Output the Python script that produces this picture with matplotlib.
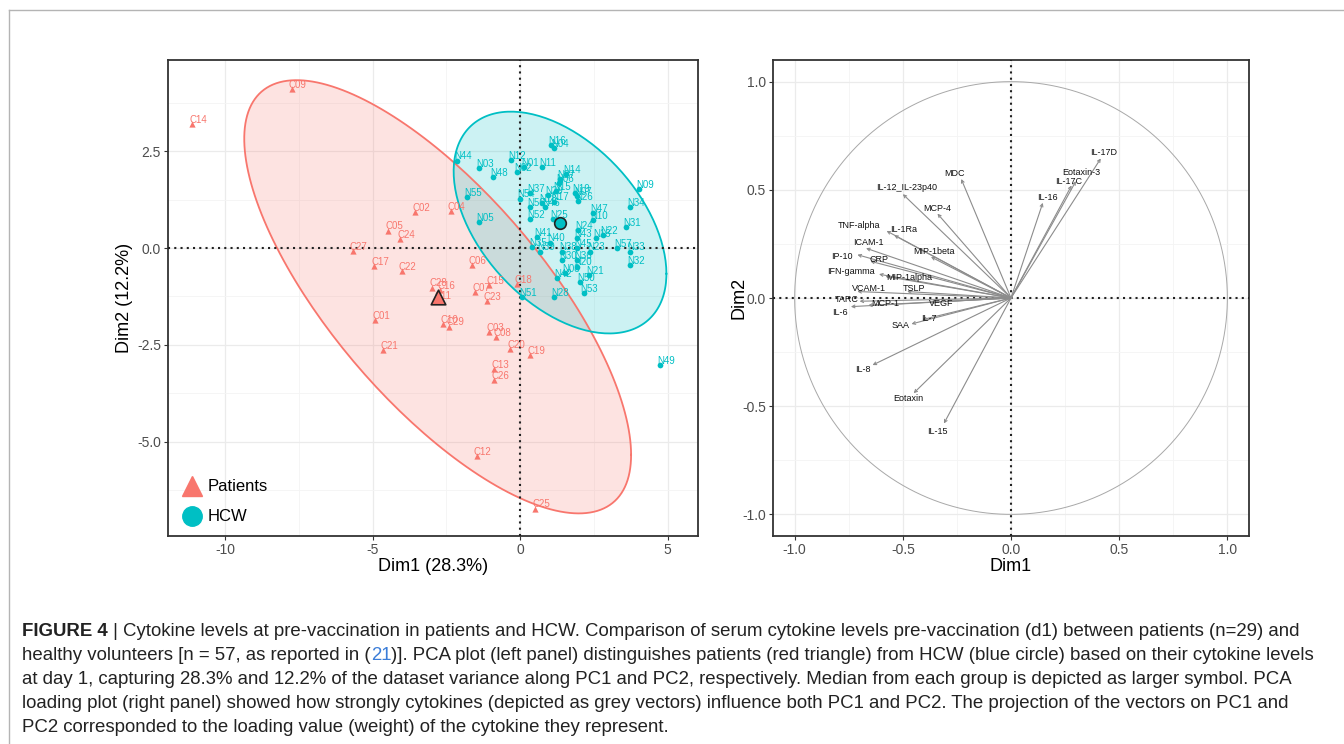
import numpy as np
import matplotlib.pyplot as plt
from matplotlib.lines import Line2D
from matplotlib.patches import Polygon

plt.rcParams['font.family'] = ['Liberation Sans', 'DejaVu Sans']
plt.rcParams['axes.unicode_minus'] = False

# individuals, patients (PCA scores)
pat_lab = ['C01', 'C02', 'C03', 'C04', 'C05', 'C06', 'C07', 'C08', 'C09', 'C10',
           'C11', 'C12', 'C13', 'C14', 'C15', 'C16', 'C17', 'C18', 'C19', 'C20',
           'C21', 'C22', 'C23', 'C24', 'C25', 'C26', 'C27', 'C28', 'C29']
pat_x = [-4.92, -3.56, -1.04, -2.35, -4.46, -1.64, -1.53, -0.82, -7.74, -2.60,
         -2.81, -1.47, -0.88, -11.1, -1.04, -2.71, -4.94, -0.09, 0.34, -0.34,
         -4.63, -4.01, -1.13, -4.07, 0.51, -0.87, -5.67, -2.99, -2.40]
pat_y = [-1.86, 0.94, -2.16, 0.96, 0.45, -0.45, -1.13, -2.31, 4.10, -1.96,
         -1.34, -5.37, -3.13, 3.20, -0.96, -1.09, -0.46, -0.93, -2.77, -2.61,
         -2.64, -0.59, -1.36, 0.23, -6.73, -3.41, -0.07, -1.02, -2.03]

# individuals, healthy care workers
hcw_lab = ['N16', 'N04', 'N44', 'N12', 'N01', 'N11', 'N03', 'N02', 'N14', 'N48',
           'N27', 'N06', 'N19', 'N37', 'N15', 'N07', 'N54', 'N29', 'N17', 'N26',
           'N55', 'N56', 'N46', 'N47', 'N09', 'N34', 'N31', 'N05', 'N52', 'N10',
           'N24', 'N22', 'N41', 'N43', 'N40', 'N13', 'N57', 'N45', 'N23', 'N39',
           'N35', 'N38', 'N33', 'N32', 'N36', 'N30', 'N20', 'N08', 'N42', 'N21',
           'N50', 'N53', 'N28', 'N51', 'N49', 'N18', 'N25']
hcw_x = [1.04, 1.15, -2.15, -0.31, 0.14, 0.73, -1.38, -0.09, 1.56, -0.93,
         1.36, 1.33, 1.86, 0.34, 1.22, 1.92, 0.00, 0.96, 1.15, 1.98,
         -1.81, 0.34, 0.85, 2.46, 4.04, 3.73, 3.58, -1.38, 0.34, 2.46,
         1.98, 2.80, 0.56, 1.92, 1.02, 2.58, 3.28, 1.92, 2.37, 0.68,
         0.40, 1.41, 3.71, 3.73, 1.92, 1.41, 1.92, 1.53, 1.24, 2.35,
         2.03, 2.15, 1.15, 0.06, 4.75, 0.73, 1.13]
hcw_y = [2.66, 2.58, 2.26, 2.27, 2.09, 2.10, 2.06, 1.97, 1.91, 1.83,
         1.78, 1.67, 1.43, 1.43, 1.48, 1.34, 1.28, 1.37, 1.20, 1.22,
         1.31, 1.07, 1.07, 0.91, 1.52, 1.07, 0.55, 0.68, 0.74, 0.72,
         0.47, 0.34, 0.28, 0.25, 0.14, 0.25, -0.01, -0.01, -0.09, -0.09,
         0.03, -0.09, -0.09, -0.44, -0.31, -0.31, -0.48, -0.65, -0.78, -0.70,
         -0.87, -1.17, -1.26, -1.26, -3.02, 1.17, 0.74]

# variable loadings (correlation circle)
var_names = ['MDC', 'IL-12_IL-23p40', 'MCP-4', 'TNF-alpha', 'IL-1Ra', 'ICAM-1',
             'MIP-1beta', 'IP-10', 'CRP', 'IFN-gamma', 'MIP-1alpha', 'VCAM-1',
             'TSLP', 'TARC', 'MCP-1', 'IL-6', 'VEGF', 'IL-7', 'SAA', 'IL-8',
             'Eotaxin', 'IL-15', 'IL-17D', 'Eotaxin-3', 'IL-17C', 'IL-16']
var_x = [-0.23, -0.50, -0.34, -0.575, -0.54, -0.67, -0.37, -0.71, -0.65, -0.61,
         -0.58, -0.71, -0.48, -0.70, -0.66, -0.74, -0.375, -0.41, -0.46, -0.64,
         -0.45, -0.31, 0.415, 0.30, 0.28, 0.147]
var_y = [0.55, 0.48, 0.39, 0.31, 0.29, 0.23, 0.19, 0.20, 0.17, 0.11,
         0.10, 0.03, 0.03, -0.015, -0.034, -0.04, -0.02, -0.10, -0.12, -0.31,
         -0.44, -0.58, 0.645, 0.54, 0.52, 0.44]
# label nudges (points), like ggrepel output
var_nudge = [(-5, 4), (3, 5), (0, 4), (-20, 4), (7, 4), (2, 4),
             (2, 4), (-11, -1), (6, 1), (-20, 2), (17, -1), (8, 2),
             (5, 2), (-9, 1), (12, 1), (-8, -4), (8, -1), (5, 1), (-8, -1), (-7, -3),
             (-4, -4), (-5, -6), (2, 4), (4, 6), (-2, 3), (3, 4)]

RED = '#F8766D'
TEAL = '#00BFC4'
W, H = 1344, 744


def conf_ellipse(x, y, level=0.95, n_pts=200):
    # same as ggplot2 stat_ellipse(type = "norm")
    x = np.asarray(x); y = np.asarray(y)
    n = len(x)
    dfd = n - 1
    f = dfd / 2 * ((1 - level) ** (-2 / dfd) - 1)  # qf(level, 2, n-1)
    r = np.sqrt(2 * f)
    cov = np.cov(x, y)
    ch = np.linalg.cholesky(cov).T
    t = np.linspace(0, 2 * np.pi, n_pts)
    circ = np.column_stack([np.cos(t), np.sin(t)])
    return np.array([x.mean(), y.mean()]) + r * circ @ ch


def style_axes(ax):
    ax.set_facecolor('white')
    ax.grid(True, which='major', color='#ebebeb', lw=0.9, zorder=0)
    ax.grid(True, which='minor', color='#f4f4f4', lw=0.6, zorder=0)
    ax.set_axisbelow(True)
    for s in ax.spines.values():
        s.set_color('#333333')
        s.set_linewidth(1.3)
    ax.tick_params(length=3, width=0.8, color='#333333', labelcolor='#4d4d4d',
                   labelsize=10, pad=2)


fig = plt.figure(figsize=(W / 100, H / 100), dpi=100)

# outer frame of the figure
fig.add_artist(Line2D([9 / W, 1.0], [1 - 10 / H, 1 - 10 / H], color='#b4b4b4', lw=1))
fig.add_artist(Line2D([9 / W, 9 / W], [0, 1 - 10 / H], color='#b4b4b4', lw=1))

# ---------- left panel: individuals ----------
ax1 = fig.add_axes([168 / W, 208 / H, 530 / W, 476 / H])
style_axes(ax1)
ax1.set_xlim(-11.93, 6.03)
ax1.set_ylim(-7.44, 4.86)
ax1.set_xticks([-10, -5, 0, 5])
ax1.set_xticklabels(['-10', '-5', '0', '5'])
ax1.set_xticks([-7.5, -2.5, 2.5], minor=True)
ax1.set_yticks([2.5, 0, -2.5, -5.0])
ax1.set_yticklabels(['2.5', '0.0', '-2.5', '-5.0'])
ax1.set_yticks([3.75, 1.25, -1.25, -3.75, -6.25], minor=True)
ax1.tick_params(which='minor', length=0)

for xs, ys, col in [(pat_x, pat_y, RED), (hcw_x, hcw_y, TEAL)]:
    el = conf_ellipse(xs, ys)
    ax1.add_patch(Polygon(el, closed=True, facecolor=col, alpha=0.2, edgecolor='none', zorder=1))
    ax1.plot(el[:, 0], el[:, 1], color=col, lw=1.3, zorder=2)

ax1.axhline(0, color='#222222', ls=(0, (1, 2)), lw=1.5, zorder=3)
ax1.axvline(0, color='#222222', ls=(0, (1, 2)), lw=1.5, zorder=3)

ax1.scatter(pat_x, pat_y, marker='^', s=20, color=RED, zorder=4, linewidths=0)
ax1.scatter(hcw_x, hcw_y, marker='o', s=17, color=TEAL, zorder=4, linewidths=0)
for lab, x, y in zip(pat_lab, pat_x, pat_y):
    ax1.annotate(lab, (x, y), xytext=(-2, 3), textcoords='offset points',
                 fontsize=7, color=RED, ha='left', va='center', zorder=5)
for lab, x, y in zip(hcw_lab, hcw_x, hcw_y):
    ax1.annotate(lab, (x, y), xytext=(-2, 3), textcoords='offset points',
                 fontsize=7, color=TEAL, ha='left', va='center', zorder=5)

# group centres (larger symbols)
ax1.scatter([np.mean(pat_x)], [np.mean(pat_y)], marker='^', s=110, color=RED,
            edgecolors='#222222', linewidths=1.2, zorder=6)
ax1.scatter([np.mean(hcw_x)], [np.mean(hcw_y)], marker='o', s=70, color=TEAL,
            edgecolors='#222222', linewidths=1.2, zorder=6)

handles = [Line2D([], [], marker='^', ls='', color=RED, markersize=15),
           Line2D([], [], marker='o', ls='', color=TEAL, markersize=14)]
ax1.legend(handles, ['Patients', 'HCW'], loc='lower left', frameon=False,
           fontsize=12, handletextpad=0.2, labelspacing=0.9,
           borderaxespad=0.3, handlelength=1.5)

ax1.set_xlabel('Dim1 (28.3%)', fontsize=13)
ax1.set_ylabel('Dim2 (12.2%)', fontsize=13)
ax1.xaxis.set_label_coords(0.5, -0.046)
ax1.yaxis.set_label_coords(-0.066, 0.5)

# ---------- right panel: variables ----------
ax2 = fig.add_axes([773 / W, 208 / H, 476 / W, 476 / H])
style_axes(ax2)
ax2.set_xlim(-1.1, 1.1)
ax2.set_ylim(-1.1, 1.1)
ax2.set_xticks([-1.0, -0.5, 0.0, 0.5, 1.0])
ax2.set_yticks([-1.0, -0.5, 0.0, 0.5, 1.0])
ax2.set_xticks([-0.75, -0.25, 0.25, 0.75], minor=True)
ax2.set_yticks([-0.75, -0.25, 0.25, 0.75], minor=True)
ax2.tick_params(which='minor', length=0)

t = np.linspace(0, 2 * np.pi, 400)
ax2.plot(np.cos(t), np.sin(t), color='#a8a8a8', lw=0.7, zorder=2)
ax2.axhline(0, color='#222222', ls=(0, (1, 2)), lw=1.5, zorder=3)
ax2.axvline(0, color='#222222', ls=(0, (1, 2)), lw=1.5, zorder=3)

for name, x, y, (dx, dy) in zip(var_names, var_x, var_y, var_nudge):
    ax2.annotate('', xy=(x, y), xytext=(0, 0),
                 arrowprops=dict(arrowstyle='->', color='#8c8c8c', lw=0.8,
                                 shrinkA=0, shrinkB=0, mutation_scale=5), zorder=4)
    ax2.annotate(name, (x, y), xytext=(dx, dy), textcoords='offset points',
                 fontsize=6.5, color='#111111', ha='center', va='center', zorder=5)

ax2.set_xlabel('Dim1', fontsize=13)
ax2.set_ylabel('Dim2', fontsize=13)
ax2.xaxis.set_label_coords(0.5, -0.046)
ax2.yaxis.set_label_coords(-0.053, 0.5)

# ---------- caption ----------
LINK = '#3b7dd8'
cap_lines = [
    [('FIGURE 4', {'fontweight': 'bold'}),
     (' | Cytokine levels at pre-vaccination in patients and HCW. Comparison of serum cytokine '
      'levels pre-vaccination (d1) between patients (n=29) and', {})],
    [('healthy volunteers [n = 57, as reported in (', {}), ('21', {'color': LINK}),
     (')]. PCA plot (left panel) distinguishes patients (red triangle) from HCW (blue circle) '
      'based on their cytokine levels', {})],
    [('at day 1, capturing 28.3% and 12.2% of the dataset variance along PC1 and PC2, '
      'respectively. Median from each group is depicted as larger symbol. PCA', {})],
    [('loading plot (right panel) showed how strongly cytokines (depicted as grey vectors) '
      'influence both PC1 and PC2. The projection of the vectors on PC1 and', {})],
    [('PC2 corresponded to the loading value (weight) of the cytokine they represent.', {})],
]
cap_y = [631, 655, 679, 703, 727]

renderer = fig.canvas.get_renderer()
probe = fig.text(0, 0, ''.join(s for s, _ in cap_lines[1]), fontsize=12)
w = probe.get_window_extent(renderer).width
probe.remove()
cap_fs = 12 * 1298 / w

for segs, yy in zip(cap_lines, cap_y):
    x = 22
    for s, kw in segs:
        kw = dict(kw)
        kw.setdefault('color', '#222222')
        txt = fig.text(x / W, 1 - yy / H, s, fontsize=cap_fs, ha='left', va='center', **kw)
        x += txt.get_window_extent(renderer).width

fig.savefig('out.png', dpi=100)
